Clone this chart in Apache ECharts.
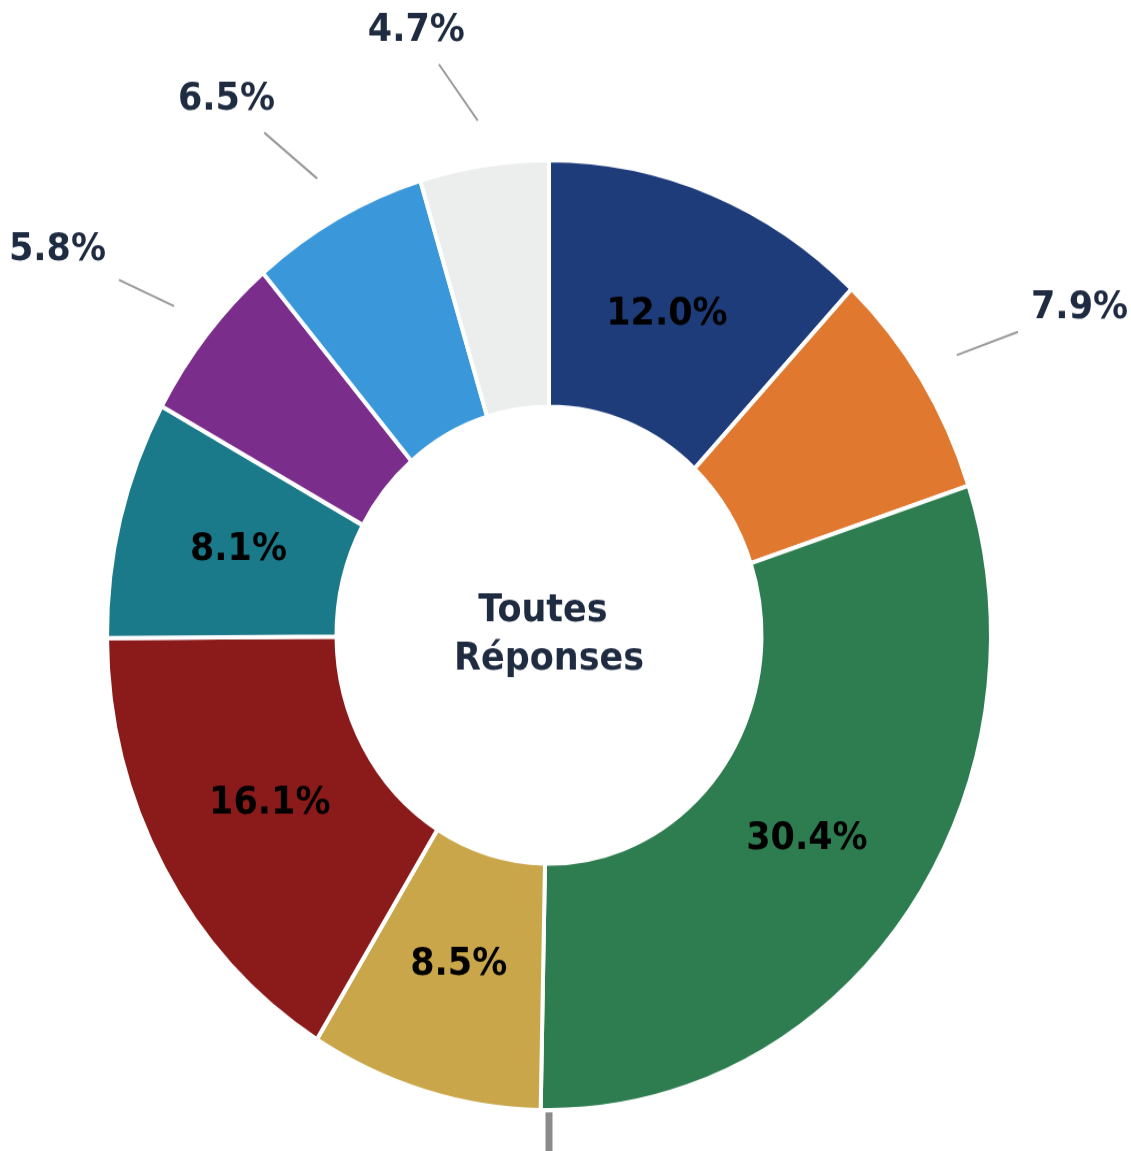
<!DOCTYPE html>
<html>
<head>
<meta charset="utf-8">
<script src="https://cdn.jsdelivr.net/npm/echarts@6/dist/echarts.min.js"></script>
<style>
  html, body { margin: 0; padding: 0; background: #fff; width: 1131px; height: 1151px; overflow: hidden; }
  /* the source picture is stretched a little vertically */
  #chart { width: 1131px; height: 1071px; transform-origin: 0 0; transform: scaleY(1.0747); }
</style>
</head>
<body>
<div id="chart"></div>
<script>
// shares in %, clockwise from 12 o'clock
var segments = ['Segment 1', 'Segment 2', 'Segment 3', 'Segment 4', 'Segment 5',
                'Segment 6', 'Segment 7', 'Segment 8', 'Segment 9'];
var values = [12.0, 7.9, 30.4, 8.5, 16.1, 8.1, 5.8, 6.5, 4.7];
var colors = ['#1f3c7a', '#e07830', '#2e7d50', '#c9a64a', '#8b1a1a',
              '#1b7a8a', '#7b2d8b', '#3a98da', '#eceeee'];
var centerText = 'Toutes \nRéponses';
var outsideBelow = 8; // smaller slices get their label outside

var CX = 549, CY = 591, R = 442, R0 = 212.5;
var FONT = 'DejaVu Sans';

var chart = echarts.init(document.getElementById('chart'));

function placeLabel(p) {
  var w = p.labelRect.width, h = p.labelRect.height;
  if (values[p.dataIndex] >= outsideBelow) {
    // inside labels sit a bit closer to the hole than mid-ring
    var lx = p.labelRect.x + w / 2, ly = p.labelRect.y + h / 2;
    return {
      x: CX + (lx - CX) * 0.97, y: CY + (ly - CY) * 0.97,
      align: 'center', verticalAlign: 'middle'
    };
  }
  if (!p.labelLinePoints) return {};
  var p0 = p.labelLinePoints[0];
  var dx = p0[0] - CX, dy = p0[1] - CY;
  var len = Math.sqrt(dx * dx + dy * dy);
  dx /= len; dy /= len;
  var rv = R - 2;
  var sx = CX + dx * rv * 1.1, sy = CY + dy * rv * 1.1;
  var ax = CX + dx * rv * 1.3, ay = CY + dy * rv * 1.3 + 4;
  var bx = dx < 0 ? ax - w / 2 : ax + w / 2, by = ay;
  var vx = sx - bx, vy = sy - by;
  var vl = Math.sqrt(vx * vx + vy * vy);
  vx /= vl; vy /= vl;
  var pad = 13;
  var t = Math.min((w / 2 + pad) / Math.max(Math.abs(vx), 1e-6),
                   (h / 2 + pad) / Math.max(Math.abs(vy), 1e-6));
  return {
    x: ax, y: ay,
    align: dx < 0 ? 'right' : 'left',
    verticalAlign: 'middle',
    labelLinePoints: [[sx, sy], [bx + vx * t, by + vy * t]]
  };
}

var option = {
  backgroundColor: '#fff',
  animation: false,
  graphic: [
    {
      type: 'text', x: CX, y: CY, silent: true,
      style: {
        text: centerText, fill: '#1e2b40', fontFamily: FONT, fontWeight: 'bold',
        fontSize: 35, lineHeight: 45, align: 'center', verticalAlign: 'middle'
      }
    },
    {
      type: 'line', silent: true,
      shape: { x1: CX, y1: CY + R + 2, x2: CX, y2: CY + R + 80 },
      style: { stroke: '#8a8a8a', lineWidth: 7 }
    }
  ],
  series: [{
    type: 'pie',
    center: [CX, CY],
    radius: [R0, R],
    startAngle: 90,
    clockwise: true,
    avoidLabelOverlap: false,
    silent: true,
    itemStyle: { borderColor: '#fff', borderWidth: 4 },
    label: {
      fontFamily: FONT, fontWeight: 'bold', fontSize: 35, overflow: 'none',
      formatter: function (p) { return p.value.toFixed(1) + '%'; }
    },
    labelLine: { lineStyle: { color: '#999', width: 2 } },
    labelLayout: placeLabel,
    data: values.map(function (v, i) {
      var out = v < outsideBelow;
      return {
        name: segments[i], value: v,
        itemStyle: { color: colors[i] },
        label: { position: out ? 'outside' : 'inside', color: out ? '#1e2b40' : '#000' },
        labelLine: { show: out, length: 20, length2: 0 }
      };
    })
  }]
};

chart.setOption(option);
</script>
</body>
</html>
